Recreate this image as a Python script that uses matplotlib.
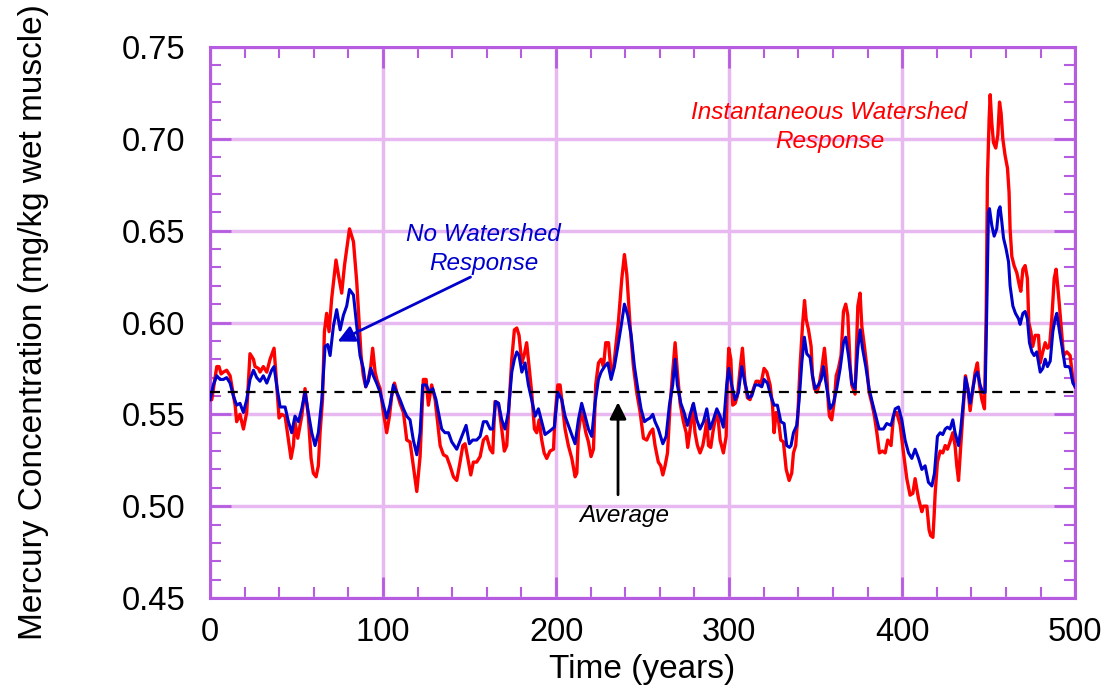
from matplotlib import pyplot as plt
from matplotlib.ticker import MultipleLocator

plt.rcParams['font.family'] = ['Liberation Sans', 'DejaVu Sans']

# Instantaneous watershed response (red)
years_inst = [0.0, 1.0, 3.9, 5.2, 6.4, 7.7, 9.6, 11.6, 12.5, 14.5, 15.4, 17.3, 19.3, 21.2, 23.1, 25.1, 26.0, 28.0,
              28.9, 30.8, 32.8, 34.7, 37.0, 38.5, 39.9, 41.4, 43.4, 45.3, 46.8, 48.2, 49.1, 50.7, 53.0, 54.9,
              56.8, 58.4, 59.7, 61.3, 62.6, 63.6, 65.0, 66.1, 67.4, 68.8, 70.3, 72.8, 74.2, 76.1, 77.7, 79.0,
              80.6, 82.9, 84.8, 86.3, 87.3, 88.6, 90.0, 91.5, 92.9, 94.0, 95.4, 96.7, 98.3, 100.2, 102.1,
              103.7, 105.0, 106.6, 107.9, 109.8, 111.8, 113.7, 115.6, 117.5, 119.5, 121.4, 123.3, 124.9,
              126.2, 128.1, 130.1, 131.4, 133.0, 134.9, 136.8, 138.7, 140.7, 142.6, 144.5, 146.1, 147.4,
              148.8, 150.7, 152.2, 154.1, 156.1, 158.0, 159.9, 161.9, 163.4, 164.7, 166.7, 168.6, 170.1,
              171.5, 172.8, 174.4, 175.9, 177.3, 178.6, 180.2, 181.5, 183.0, 184.4, 185.9, 187.5, 188.8,
              190.2, 191.7, 193.1, 194.6, 196.5, 198.5, 199.4, 201.0, 202.3, 203.3, 205.2, 207.1, 209.1,
              211.0, 212.0, 212.9, 214.5, 215.8, 217.2, 218.7, 220.2, 221.6, 222.9, 224.5, 226.0, 227.4,
              228.7, 230.3, 231.8, 233.2, 234.5, 236.0, 238.0, 239.5, 240.9, 242.8, 244.7, 246.6, 248.6,
              250.5, 252.4, 254.3, 255.9, 257.2, 259.1, 260.5, 261.7, 263.0, 264.4, 265.9, 267.4, 268.8,
              270.1, 271.7, 273.6, 275.2, 276.1, 277.5, 279.0, 280.3, 281.7, 283.2, 284.8, 286.1, 287.1,
              288.1, 289.4, 290.6, 291.9, 293.3, 294.8, 296.7, 298.3, 299.0, 299.8, 301.0, 302.1, 303.5,
              304.8, 306.4, 307.7, 309.2, 310.6, 312.1, 314.1, 315.6, 317.0, 318.3, 320.2, 321.8, 323.7,
              325.1, 326.0, 327.2, 328.5, 329.9, 331.4, 333.0, 334.7, 336.2, 337.2, 338.5, 339.7, 341.0,
              342.4, 343.6, 344.5, 345.9, 347.4, 348.2, 349.3, 350.7, 352.0, 353.6, 355.1, 356.5, 357.4,
              358.0, 359.3, 360.9, 361.9, 363.2, 364.7, 366.1, 367.4, 368.6, 370.0, 370.9, 372.8, 374.4,
              375.7, 376.7, 378.2, 379.6, 380.9, 382.5, 384.0, 385.4, 386.9, 388.6, 390.2, 391.7, 393.6,
              395.0, 396.9, 398.9, 400.8, 402.7, 404.6, 406.2, 407.5, 409.5, 411.4, 412.3, 414.3, 415.6,
              416.5, 417.8, 418.5, 419.1, 420.4, 422.0, 423.5, 424.9, 426.2, 427.7, 429.3, 430.6, 431.6,
              432.6, 433.9, 435.5, 436.6, 438.0, 439.3, 440.9, 442.2, 443.5, 444.7, 446.1, 447.6, 448.6,
              449.3, 450.3, 450.9, 451.8, 452.8, 454.1, 455.3, 456.3, 457.2, 458.2, 459.5, 460.9, 461.8,
              462.4, 463.4, 464.7, 466.3, 467.8, 468.6, 469.8, 471.1, 472.4, 473.2, 474.4, 475.5, 476.9,
              478.8, 479.8, 481.3, 482.7, 484.0, 485.2, 486.5, 487.9, 489.0, 490.4, 491.7, 493.3, 495.2,
              497.1, 498.7, 500.0]
hg_inst = [0.558, 0.558, 0.576, 0.576, 0.572, 0.573, 0.574, 0.571, 0.566, 0.555, 0.546, 0.550, 0.542, 0.551,
           0.583, 0.580, 0.576, 0.575, 0.573, 0.576, 0.573, 0.580, 0.586, 0.566, 0.548, 0.550, 0.549, 0.536,
           0.526, 0.533, 0.546, 0.537, 0.549, 0.564, 0.549, 0.526, 0.518, 0.516, 0.522, 0.540, 0.558, 0.595,
           0.605, 0.595, 0.613, 0.634, 0.626, 0.616, 0.631, 0.640, 0.651, 0.644, 0.622, 0.598, 0.582, 0.571,
           0.565, 0.569, 0.576, 0.586, 0.573, 0.568, 0.564, 0.551, 0.540, 0.549, 0.560, 0.567, 0.562, 0.556,
           0.551, 0.536, 0.535, 0.522, 0.508, 0.527, 0.569, 0.569, 0.555, 0.566, 0.558, 0.547, 0.533, 0.528,
           0.527, 0.522, 0.516, 0.514, 0.524, 0.533, 0.534, 0.527, 0.517, 0.524, 0.524, 0.527, 0.536, 0.538,
           0.531, 0.529, 0.557, 0.556, 0.542, 0.530, 0.533, 0.555, 0.580, 0.596, 0.597, 0.593, 0.578, 0.582,
           0.589, 0.576, 0.562, 0.542, 0.540, 0.547, 0.536, 0.529, 0.526, 0.530, 0.531, 0.549, 0.566, 0.566,
           0.558, 0.542, 0.533, 0.526, 0.516, 0.518, 0.540, 0.551, 0.547, 0.540, 0.535, 0.527, 0.531, 0.566,
           0.578, 0.580, 0.576, 0.589, 0.589, 0.573, 0.575, 0.587, 0.600, 0.624, 0.637, 0.626, 0.598, 0.576,
           0.562, 0.551, 0.537, 0.536, 0.540, 0.542, 0.533, 0.524, 0.522, 0.517, 0.522, 0.529, 0.555, 0.573,
           0.589, 0.573, 0.556, 0.546, 0.540, 0.532, 0.542, 0.555, 0.540, 0.533, 0.529, 0.533, 0.540, 0.547,
           0.533, 0.532, 0.540, 0.547, 0.551, 0.536, 0.529, 0.538, 0.569, 0.586, 0.580, 0.555, 0.556, 0.560,
           0.575, 0.586, 0.567, 0.559, 0.558, 0.564, 0.568, 0.568, 0.566, 0.575, 0.573, 0.566, 0.555, 0.540,
           0.551, 0.547, 0.536, 0.535, 0.520, 0.514, 0.518, 0.529, 0.533, 0.549, 0.576, 0.598, 0.612, 0.602,
           0.596, 0.587, 0.571, 0.564, 0.562, 0.566, 0.575, 0.586, 0.571, 0.555, 0.549, 0.547, 0.558, 0.571,
           0.575, 0.582, 0.606, 0.610, 0.604, 0.576, 0.566, 0.561, 0.609, 0.616, 0.598, 0.587, 0.576, 0.562,
           0.556, 0.549, 0.540, 0.529, 0.530, 0.529, 0.536, 0.533, 0.549, 0.551, 0.544, 0.529, 0.515, 0.506,
           0.507, 0.515, 0.504, 0.497, 0.500, 0.500, 0.487, 0.484, 0.483, 0.495, 0.507, 0.524, 0.530, 0.529,
           0.533, 0.531, 0.535, 0.540, 0.533, 0.522, 0.514, 0.533, 0.555, 0.571, 0.564, 0.552, 0.564, 0.573,
           0.578, 0.566, 0.558, 0.553, 0.606, 0.678, 0.711, 0.724, 0.709, 0.698, 0.695, 0.702, 0.720, 0.714,
           0.700, 0.691, 0.684, 0.671, 0.651, 0.636, 0.631, 0.627, 0.620, 0.617, 0.629, 0.631, 0.624, 0.600,
           0.595, 0.587, 0.593, 0.593, 0.578, 0.584, 0.589, 0.586, 0.587, 0.602, 0.624, 0.629, 0.615, 0.600,
           0.582, 0.584, 0.582, 0.569, 0.565]

# No watershed response (blue)
years_none = [0.0, 1.9, 3.9, 5.8, 7.7, 9.6, 11.6, 13.5, 15.4, 17.3, 19.3, 21.2, 23.1, 25.1, 27.0, 28.9, 30.8,
              32.8, 35.6, 37.0, 38.5, 40.5, 43.4, 45.3, 47.2, 49.1, 51.1, 53.0, 54.9, 56.8, 58.8, 60.7, 62.6,
              64.6, 66.5, 68.0, 69.4, 71.3, 73.2, 75.2, 77.1, 79.0, 80.6, 82.9, 84.8, 86.7, 88.6, 90.0, 91.5,
              92.9, 94.4, 96.3, 98.3, 100.2, 102.1, 104.0, 106.0, 107.9, 109.8, 111.8, 113.7, 115.6, 117.5,
              119.5, 121.4, 122.9, 124.9, 126.8, 128.7, 130.6, 132.0, 133.9, 135.8, 137.8, 139.7, 142.6,
              145.5, 148.0, 149.9, 151.8, 154.1, 156.1, 158.0, 159.9, 161.9, 163.4, 165.1, 166.7, 168.6,
              170.5, 172.4, 174.4, 175.9, 177.3, 178.6, 180.2, 182.1, 184.0, 185.9, 187.9, 189.8, 191.7,
              193.6, 196.5, 199.0, 201.0, 203.3, 205.2, 207.1, 209.4, 211.0, 212.9, 214.8, 216.8, 218.7,
              220.6, 222.5, 224.5, 226.0, 228.0, 229.9, 231.8, 233.7, 235.7, 237.6, 239.5, 241.4, 243.4,
              245.3, 247.2, 249.1, 251.1, 252.4, 254.3, 255.9, 257.2, 259.1, 261.7, 263.6, 265.5, 267.4,
              268.8, 270.1, 272.1, 274.0, 275.9, 277.8, 279.4, 281.3, 283.2, 285.2, 287.1, 289.0, 290.9,
              292.9, 294.8, 296.7, 298.6, 299.8, 301.5, 303.5, 305.4, 307.3, 309.2, 311.2, 313.1, 315.0,
              317.0, 318.9, 320.2, 322.2, 324.1, 326.0, 327.9, 329.9, 331.8, 333.3, 334.9, 335.8, 337.2,
              339.1, 340.5, 342.0, 343.5, 344.9, 346.8, 348.2, 349.7, 351.6, 353.2, 354.5, 356.5, 358.4,
              360.3, 362.2, 364.2, 366.1, 367.4, 369.0, 370.9, 372.8, 374.4, 375.7, 377.1, 379.0, 380.9,
              382.9, 384.8, 386.7, 389.2, 391.1, 393.6, 396.0, 397.9, 399.8, 401.7, 403.7, 405.6, 407.5,
              409.5, 411.4, 413.3, 415.2, 417.2, 418.7, 420.4, 422.0, 423.5, 424.9, 426.2, 427.7, 429.3,
              430.6, 432.6, 433.9, 435.5, 436.6, 438.0, 439.3, 440.9, 442.2, 443.5, 445.1, 446.6, 448.0,
              448.9, 449.9, 450.5, 451.8, 453.2, 454.7, 455.7, 456.6, 457.6, 458.6, 460.1, 461.5, 462.4,
              464.0, 465.5, 467.3, 468.2, 469.8, 471.1, 472.4, 473.6, 475.0, 476.3, 477.8, 479.8, 481.3,
              482.7, 484.0, 485.6, 487.1, 488.4, 489.4, 491.0, 492.9, 494.2, 496.2, 497.1, 498.7, 500.0]
hg_none = [0.558, 0.566, 0.571, 0.569, 0.569, 0.570, 0.567, 0.560, 0.555, 0.556, 0.551, 0.558, 0.569, 0.574,
           0.570, 0.568, 0.571, 0.567, 0.574, 0.576, 0.566, 0.554, 0.554, 0.546, 0.540, 0.549, 0.546, 0.553,
           0.562, 0.551, 0.540, 0.533, 0.540, 0.558, 0.587, 0.588, 0.582, 0.598, 0.607, 0.596, 0.604, 0.609,
           0.618, 0.615, 0.598, 0.582, 0.575, 0.565, 0.568, 0.575, 0.571, 0.567, 0.562, 0.555, 0.548, 0.555,
           0.566, 0.562, 0.558, 0.553, 0.549, 0.547, 0.536, 0.528, 0.540, 0.566, 0.566, 0.562, 0.564, 0.558,
           0.551, 0.542, 0.540, 0.540, 0.535, 0.531, 0.538, 0.544, 0.534, 0.536, 0.536, 0.538, 0.546, 0.546,
           0.542, 0.542, 0.557, 0.556, 0.547, 0.542, 0.551, 0.573, 0.580, 0.584, 0.582, 0.573, 0.578, 0.566,
           0.558, 0.549, 0.553, 0.546, 0.539, 0.541, 0.543, 0.562, 0.558, 0.549, 0.544, 0.538, 0.534, 0.547,
           0.556, 0.549, 0.542, 0.538, 0.556, 0.569, 0.573, 0.576, 0.578, 0.569, 0.576, 0.587, 0.598, 0.610,
           0.604, 0.593, 0.576, 0.564, 0.553, 0.546, 0.547, 0.548, 0.550, 0.546, 0.542, 0.534, 0.538, 0.555,
           0.566, 0.580, 0.566, 0.556, 0.551, 0.544, 0.551, 0.556, 0.547, 0.542, 0.546, 0.553, 0.542, 0.547,
           0.553, 0.549, 0.543, 0.566, 0.575, 0.566, 0.558, 0.562, 0.576, 0.567, 0.559, 0.560, 0.566, 0.566,
           0.565, 0.569, 0.567, 0.560, 0.555, 0.555, 0.546, 0.545, 0.533, 0.532, 0.533, 0.540, 0.544, 0.558,
           0.578, 0.592, 0.583, 0.581, 0.571, 0.564, 0.566, 0.569, 0.576, 0.564, 0.553, 0.556, 0.564, 0.575,
           0.589, 0.592, 0.582, 0.567, 0.564, 0.586, 0.596, 0.586, 0.576, 0.564, 0.556, 0.549, 0.542, 0.542,
           0.545, 0.544, 0.553, 0.554, 0.547, 0.536, 0.529, 0.526, 0.531, 0.526, 0.520, 0.522, 0.513, 0.511,
           0.518, 0.538, 0.540, 0.539, 0.542, 0.543, 0.542, 0.547, 0.540, 0.533, 0.542, 0.558, 0.570, 0.564,
           0.556, 0.564, 0.571, 0.573, 0.566, 0.562, 0.562, 0.606, 0.660, 0.662, 0.653, 0.647, 0.651, 0.661,
           0.663, 0.655, 0.646, 0.640, 0.633, 0.620, 0.609, 0.605, 0.602, 0.599, 0.605, 0.606, 0.602, 0.589,
           0.584, 0.582, 0.584, 0.573, 0.575, 0.580, 0.576, 0.579, 0.595, 0.602, 0.605, 0.595, 0.584, 0.576,
           0.576, 0.575, 0.567, 0.565]

average_hg = 0.562

purple = '#B55CE0'
grid_col = '#E8B8F0'

fig = plt.figure(figsize=(11.06, 6.94), dpi=100)
ax = fig.add_axes([0.1899, 0.1383, 0.7822, 0.7940])

ax.plot(years_none, hg_none, color='#0000CC', lw=2.2, zorder=4)
ax.plot(years_inst, hg_inst, color='#FF0000', lw=2.4, zorder=3)
ax.axhline(average_hg, color='black', lw=1.6, ls=(0, (4.5, 3.5)), zorder=5)

ax.set_xlim(0, 500)
ax.set_ylim(0.45, 0.75)
ax.xaxis.set_major_locator(MultipleLocator(100))
ax.xaxis.set_minor_locator(MultipleLocator(20))
ax.yaxis.set_major_locator(MultipleLocator(0.05))
ax.yaxis.set_minor_locator(MultipleLocator(0.01))
ax.yaxis.set_major_formatter(plt.FormatStrFormatter('%.2f'))
ax.grid(True, which='major', color=grid_col, lw=2.5, zorder=0)
ax.set_axisbelow(True)

for s in ax.spines.values():
    s.set_color(purple)
    s.set_linewidth(2.2)
ax.tick_params(which='both', direction='in', top=True, right=True, color=purple, labelsize=23.5)
ax.tick_params(axis='y', pad=18)
ax.tick_params(axis='x', pad=14)
ax.tick_params(which='major', length=15, width=2)
ax.tick_params(which='minor', length=8, width=1.5)

ax.set_xlabel('Time (years)', fontsize=24, labelpad=4)
ax.set_ylabel('Mercury Concentration (mg/kg wet muscle)', fontsize=24, labelpad=52)

ax.text(358, 0.7064, 'Instantaneous Watershed\nResponse', color='#FF0000', style='italic',
        fontsize=17.5, ha='center', va='center', linespacing=1.3)
ax.text(158, 0.640, 'No Watershed\nResponse', color='#0000CC', style='italic',
        fontsize=17.5, ha='center', va='center', linespacing=1.3)
ax.annotate('', xy=(72.3, 0.589), xytext=(152, 0.6254),
            arrowprops=dict(arrowstyle='-|>', color='#0000CC', lw=2, mutation_scale=25), zorder=6)
ax.text(239.3, 0.4949, 'Average', color='black', style='italic', fontsize=17.5,
        ha='center', va='center')
ax.annotate('', xy=(235.8, 0.5581), xytext=(235.8, 0.5047),
            arrowprops=dict(arrowstyle='-|>', color='black', lw=2, mutation_scale=25), zorder=6)

plt.savefig('out.png', dpi=100)
